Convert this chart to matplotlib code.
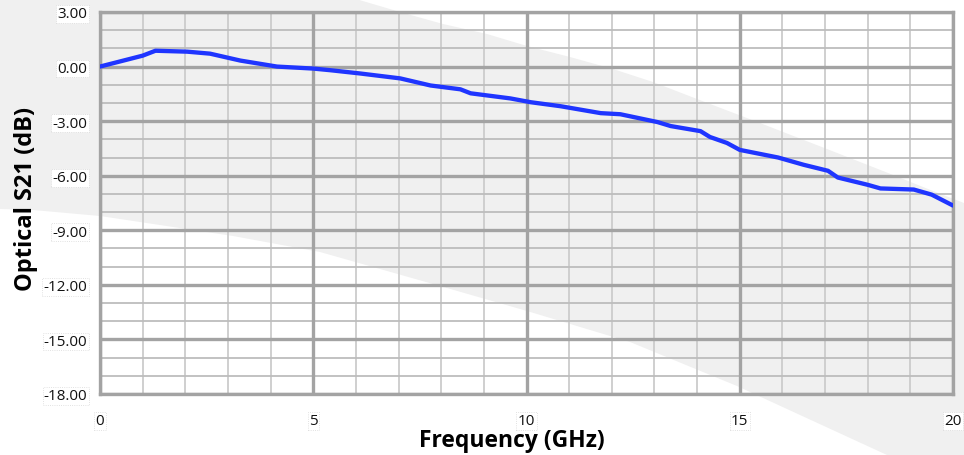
import matplotlib
matplotlib.use("Agg")
import matplotlib.pyplot as plt
from matplotlib.patches import Polygon
import numpy as np

# ---- data ----
freq_ghz = [0.0, 1.0, 1.3, 2.04, 2.58, 3.29, 4.15, 5.0, 5.4, 6.1, 7.04, 7.75, 8.45, 8.69,
            9.62, 10.1, 10.8, 11.74, 12.2, 13.07, 13.38, 14.08, 14.3, 14.7, 15.0, 15.9,
            16.5, 17.07, 17.3, 18.0, 18.3, 19.08, 19.5, 20.0]
s21_db = [0.0, 0.6, 0.87, 0.82, 0.71, 0.33, 0.0, -0.11, -0.2, -0.38, -0.65, -1.04, -1.25, -1.47,
          -1.75, -1.96, -2.18, -2.56, -2.62, -3.05, -3.27, -3.55, -3.87, -4.2, -4.58, -5.0,
          -5.4, -5.73, -6.1, -6.5, -6.7, -6.76, -7.04, -7.64]
x_ticks = [0, 5, 10, 15, 20]
x_tick_labels = ["0", "5", "10", "15", "20"]
y_ticks = [3, 0, -3, -6, -9, -12, -15, -18]
y_tick_labels = ["3.00", "0.00", "-3.00", "-6.00", "-9.00", "-12.00", "-15.00", "-18.00"]

W, H = 964, 456
fig = plt.figure(figsize=(W / 100, H / 100), dpi=100)
fig.patch.set_facecolor("white")

# diagonal light-grey background band (pixel coords, y from top)
upper = [(0, 0), (356, 0), (400, 13), (443, 25), (487, 35), (527, 47), (570, 58), (613, 70),
         (653, 83), (697, 100), (760, 124), (827, 150), (883, 172), (933, 192), (964, 204)]
lower = [(964, 456), (887, 456), (737, 387), (630, 343), (527, 312), (433, 285), (320, 253),
         (233, 237), (100, 217), (33, 211), (0, 210)]
pts = [(x / W, 1 - y / H) for x, y in upper + lower]
fig.patches.append(Polygon(pts, closed=True, transform=fig.transFigure,
                           facecolor="#f0f0f0", edgecolor="none", zorder=-10))

left, right, top, bottom = 100, 953, 13, 395
ax = fig.add_axes([left / W, 1 - bottom / H, (right - left) / W, (bottom - top) / H])
ax.set_facecolor("none")
ax.set_xlim(0, 20)
ax.set_ylim(-18, 3)

# grid
for xv in np.arange(0, 21, 1):
    if xv % 5:
        ax.axvline(xv, color="#cccccc", lw=1.3, zorder=1)
for yv in np.arange(-18, 4, 1):
    if yv % 3:
        ax.axhline(yv, color="#bdbdbd", lw=1.3, zorder=1)
for xv in x_ticks:
    ax.axvline(xv, color="#a3a3a3", lw=2.4, zorder=2)
for yv in y_ticks:
    ax.axhline(yv, color="#a3a3a3", lw=2.4, zorder=2)
for s in ax.spines.values():
    s.set_color("#a3a3a3")
    s.set_linewidth(2.4)

ax.plot(freq_ghz, s21_db, color="#1f35ff", lw=3.1, solid_capstyle="round",
        solid_joinstyle="round", zorder=5)

ax.set_xticks(x_ticks)
ax.set_xticklabels(x_tick_labels)
ax.set_yticks(y_ticks)
ax.set_yticklabels(y_tick_labels)
ax.tick_params(length=0)
ax.tick_params(axis="y", pad=9)
ax.tick_params(axis="x", pad=14)
for lab in ax.get_xticklabels() + ax.get_yticklabels():
    lab.set_fontfamily("Open Sans")
    lab.set_fontsize(11)
    lab.set_color("#111111")
    lab.set_bbox(dict(facecolor="white", edgecolor="#d8d8d8", lw=0.6, pad=1.0, ls=":"))

ax.set_xlabel("Frequency (GHz)", fontfamily="Open Sans", fontweight="bold", fontsize=16.5)
ax.set_ylabel("Optical S21 (dB)", fontfamily="Open Sans", fontweight="bold", fontsize=17)
ax.xaxis.set_label_coords((512 - left) / (right - left), -(441 - bottom) / (bottom - top))
ax.yaxis.set_label_coords(-(100 - 26) / (right - left), (bottom - 199) / (bottom - top))
ax.xaxis.label.set_verticalalignment("center")
ax.yaxis.label.set_verticalalignment("center")

fig.savefig("out.png", dpi=100)
